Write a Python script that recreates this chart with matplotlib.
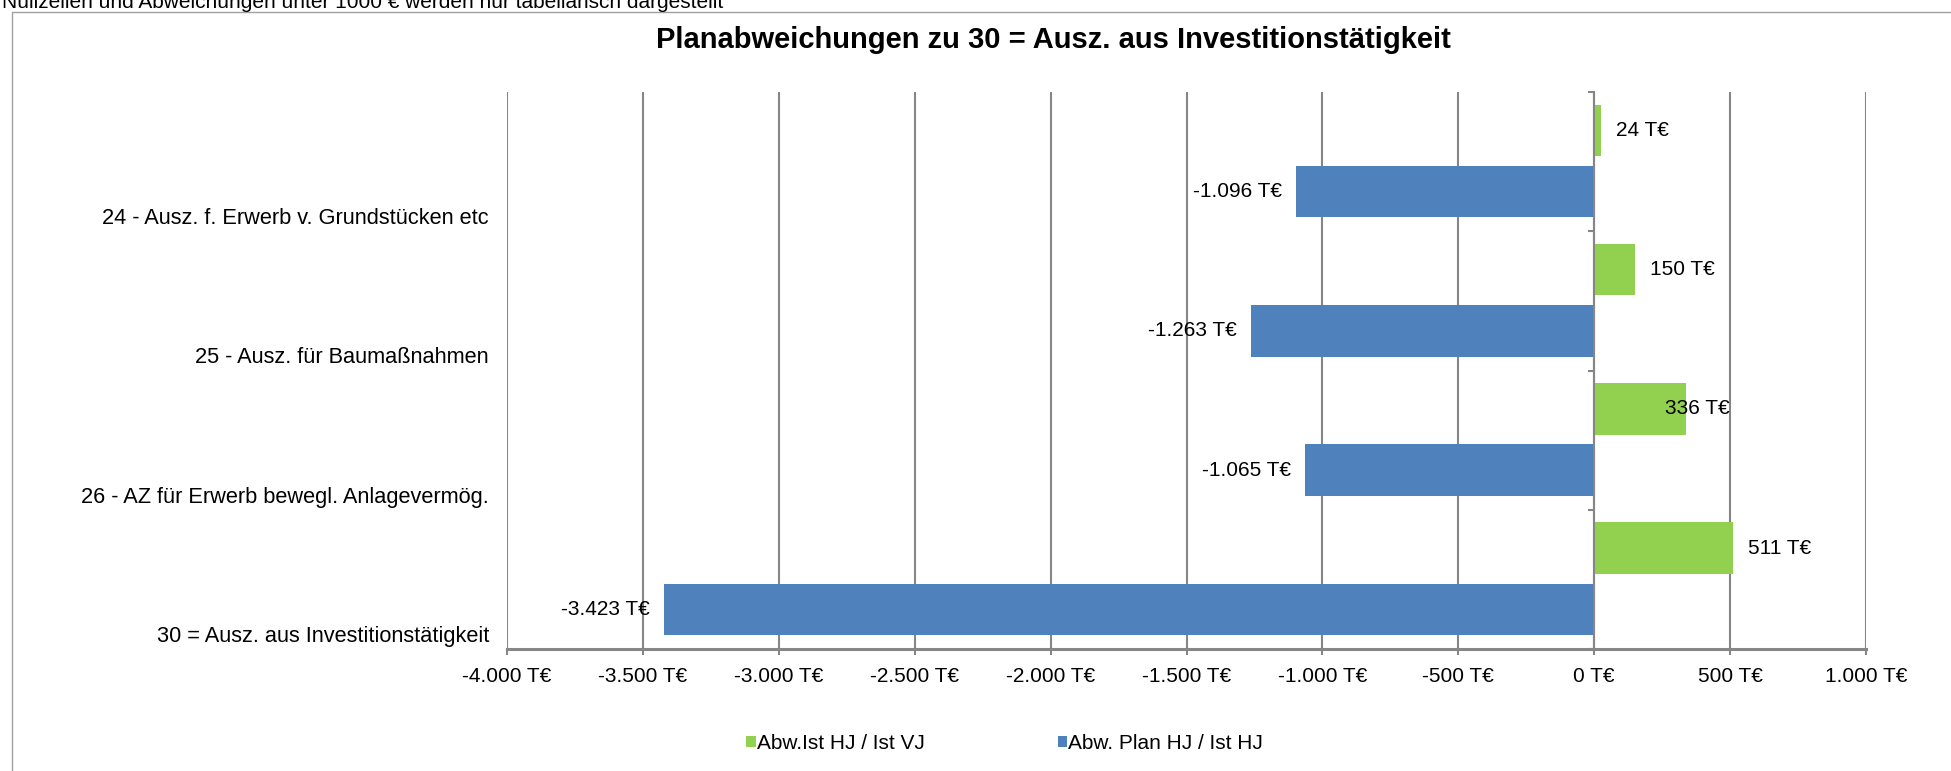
import matplotlib
matplotlib.use('Agg')
import matplotlib.pyplot as plt
from matplotlib.patches import Rectangle
from matplotlib.ticker import FuncFormatter
from matplotlib import rcParams

rcParams['font.family'] = ['Liberation Sans', 'DejaVu Sans']

categories = ['24 - Ausz. f. Erwerb v. Grundstücken etc',
              '25 - Ausz. für Baumaßnahmen',
              '26 - AZ für Erwerb bewegl. Anlagevermög.',
              '30 = Ausz. aus Investitionstätigkeit']
abw_ist_vj = [24, 150, 336, 511]
abw_plan_hj = [-1096, -1263, -1065, -3423]
series_names = ['Abw.Ist HJ / Ist VJ', 'Abw. Plan HJ / Ist HJ']
x_ticks = list(range(-4000, 1001, 500))

title = 'Planabweichungen zu 30 = Ausz. aus Investitionstätigkeit'
note = 'Nullzeilen und Abweichungen unter 1000 € werden nur tabellarisch dargestellt'

GREEN = '#92D050'
BLUE = '#4F81BD'
GRID = '#868686'
FS = 15


def teuro(v, pos=None):
    return f'{v:,.0f}'.replace(',', '.') + ' T€'


W, H = 1951, 771
fig = plt.figure(figsize=(W / 100, H / 100), dpi=100)
ax = fig.add_axes([507 / W, 1 - 649 / H, (1866 - 507) / W, (649 - 92) / H])

pos = list(range(len(categories)))
bar_h = 0.37
green = ax.barh([p - 0.225 for p in pos], abw_ist_vj, height=bar_h,
                color=GREEN, zorder=3, label=series_names[0])
blue = ax.barh([p + 0.215 for p in pos], abw_plan_hj, height=bar_h,
               color=BLUE, zorder=3, label=series_names[1])

# value labels next to the bar ends
nudge = {2: -36}
for i, r in enumerate(green.patches):
    v = abw_ist_vj[i]
    ax.annotate(teuro(v), xy=(v, r.get_y() + r.get_height() / 2),
                xytext=(15 + nudge.get(i, 0), 0), textcoords='offset pixels',
                ha='left', va='center', fontsize=FS, zorder=5)
for i, r in enumerate(blue.patches):
    v = abw_plan_hj[i]
    ax.annotate(teuro(v), xy=(v, r.get_y() + r.get_height() / 2),
                xytext=(-14, 0), textcoords='offset pixels',
                ha='right', va='center', fontsize=FS, zorder=5)

ax.set_xlim(-4000, 1000)
ax.set_ylim(len(categories) - 0.5, -0.5)
ax.set_xticks(x_ticks)
ax.xaxis.set_major_formatter(FuncFormatter(teuro))
ax.grid(axis='x', color=GRID, linewidth=1.5, zorder=0)
ax.set_axisbelow(True)

# category axis sits on the zero line
ax.spines['left'].set_position(('data', 0))
ax.spines['left'].set_color(GRID)
ax.spines['left'].set_linewidth(1.5)
ax.spines['left'].set_zorder(4)
ax.spines['bottom'].set_color(GRID)
ax.spines['bottom'].set_linewidth(2.2)
ax.spines['top'].set_visible(False)
ax.spines['right'].set_visible(False)
ax.set_yticks([p - 0.5 for p in pos] + [len(pos) - 0.5])
ax.set_yticklabels([])
ax.tick_params(axis='y', length=4, width=1.5, color=GRID)
ax.tick_params(axis='x', length=4, width=1.5, color=GRID, labelsize=FS, pad=9)

for p, cat in zip(pos, categories):
    ax.annotate(cat, xy=(0, p + 0.41), xycoords=('axes fraction', 'data'),
                xytext=(-18, 0), textcoords='offset pixels',
                ha='right', va='center', fontsize=15.7)

fig.text(1053 / W, 1 - 40 / H, title, ha='center', va='center',
         fontsize=21, fontweight='bold')
fig.text(2 / W, 1 - 8 / H, note, ha='left', va='baseline', fontsize=FS)

fig.patches.append(Rectangle((12 / W, -0.1), 1.2, 1.1 - 12 / H,
                             transform=fig.transFigure, fill=False,
                             edgecolor='#a0a0a0', linewidth=1))

fig.legend(handles=[green, blue], loc='center', bbox_to_anchor=(0.515, 0.036),
           ncol=2, frameon=False, fontsize=FS, handlelength=0.45,
           handleheight=0.45, handletextpad=0.05, columnspacing=6.4)

fig.savefig('out.png', dpi=100, facecolor='white')
